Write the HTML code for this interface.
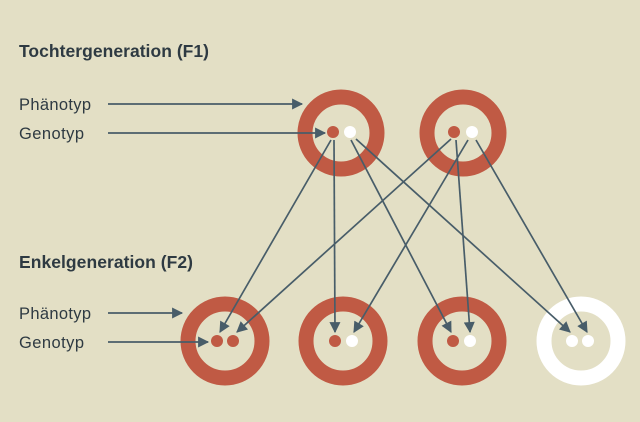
<!DOCTYPE html>
<html><head><style>
html,body{margin:0;padding:0;background:#e3dfc5;}
svg{display:block;}
text{font-family:"Liberation Sans",sans-serif;fill:#2e3a42;}
</style></head><body>
<svg width="640" height="422" viewBox="0 0 640 422" xmlns="http://www.w3.org/2000/svg">
<defs>
<marker id="a" viewBox="0 0 10 10" refX="9" refY="5" markerWidth="12" markerHeight="11" markerUnits="userSpaceOnUse" orient="auto">
<path d="M0,0 L10,5 L0,10 Z" fill="#485d69"/>
</marker>
</defs>
<rect width="640" height="422" fill="#e3dfc5"/>
<text x="19" y="57" font-size="17.5" font-weight="bold" textLength="190">Tochtergeneration (F1)</text>
<text x="19" y="268" font-size="17.5" font-weight="bold" textLength="174">Enkelgeneration (F2)</text>
<text x="19" y="110" font-size="16.5" textLength="72">Phänotyp</text>
<text x="19" y="139" font-size="16.5" textLength="65">Genotyp</text>
<text x="19" y="319" font-size="16.5" textLength="72">Phänotyp</text>
<text x="19" y="348" font-size="16.5" textLength="65">Genotyp</text>

<g fill="none" stroke-width="15">
<circle cx="341" cy="133" r="36" stroke="#c05a44"/>
<circle cx="463" cy="133" r="36" stroke="#c05a44"/>
<circle cx="225" cy="341" r="37" stroke="#c05a44"/>
<circle cx="343" cy="341" r="37" stroke="#c05a44"/>
<circle cx="462" cy="341" r="37" stroke="#c05a44"/>
<circle cx="581" cy="341" r="37" stroke="#ffffff"/>
</g>
<g>
<circle cx="333" cy="132" r="6" fill="#c05a44"/>
<circle cx="350" cy="132" r="6" fill="#fff"/>
<circle cx="454" cy="132" r="6" fill="#c05a44"/>
<circle cx="472" cy="132" r="6" fill="#fff"/>
<circle cx="217" cy="341" r="6" fill="#c05a44"/>
<circle cx="233" cy="341" r="6" fill="#c05a44"/>
<circle cx="335" cy="341" r="6" fill="#c05a44"/>
<circle cx="352" cy="341" r="6" fill="#fff"/>
<circle cx="453" cy="341" r="6" fill="#c05a44"/>
<circle cx="470" cy="341" r="6" fill="#fff"/>
<circle cx="572" cy="341" r="6" fill="#fff"/>
<circle cx="588" cy="341" r="6" fill="#fff"/>
</g>
<g stroke="#485d69" stroke-width="1.7" marker-end="url(#a)">
<line x1="108" y1="104" x2="302" y2="104"/>
<line x1="108" y1="133" x2="325" y2="133"/>
<line x1="108" y1="313" x2="182" y2="313"/>
<line x1="108" y1="342" x2="208" y2="342"/>
<line x1="331" y1="140" x2="220" y2="332"/>
<line x1="334" y1="140" x2="335" y2="332"/>
<line x1="351" y1="140" x2="451" y2="332"/>
<line x1="356" y1="139" x2="570" y2="332"/>
<line x1="451" y1="139" x2="237" y2="332"/>
<line x1="468" y1="140" x2="354" y2="332"/>
<line x1="456" y1="140" x2="470" y2="332"/>
<line x1="476" y1="140" x2="587" y2="332"/>
</g>
</svg>
</body></html>
